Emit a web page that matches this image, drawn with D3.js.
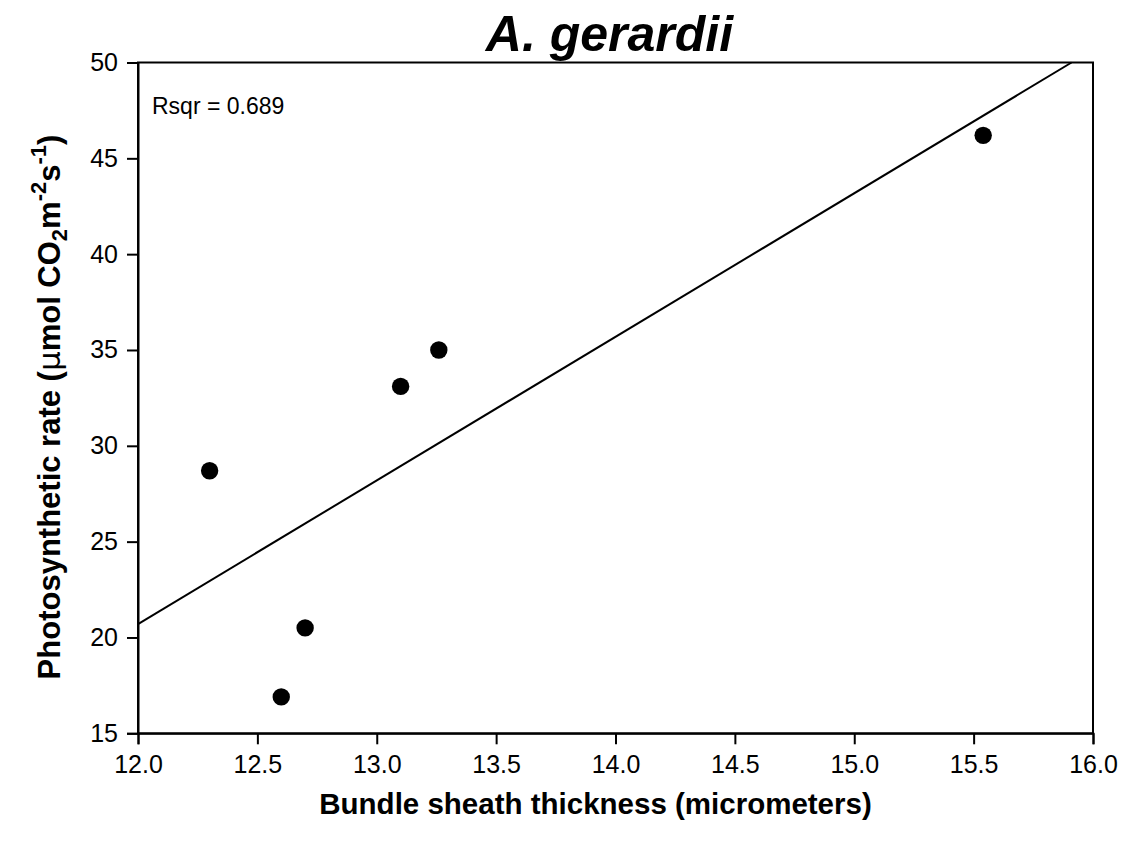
<!DOCTYPE html>
<html><head><meta charset="utf-8">
<script src="https://cdn.jsdelivr.net/npm/d3@7"></script>
<style>body{margin:0;background:#fff}svg{display:block}text{font-family:Arial,"Liberation Sans",sans-serif}</style>
</head><body>
<script>
const thickness = [12.30, 12.60, 12.70, 13.10, 13.26, 15.54];
const photoRate = [28.7, 16.9, 20.5, 33.1, 35.0, 46.2];
const xTicks = [12.0, 12.5, 13.0, 13.5, 14.0, 14.5, 15.0, 15.5, 16.0];
const yTicks = [15, 20, 25, 30, 35, 40, 45, 50];
const titleText = "A. gerardii";
const rsqrText = "Rsqr = 0.689";

const W = 1123, H = 850;
const m = {left: 138, right: 30, top: 62.5, bottom: 116.7};
const svg = d3.select("body").append("svg").attr("width", W).attr("height", H);
const x = d3.scaleLinear().domain([12, 16]).range([m.left, W - m.right]);
const y = d3.scaleLinear().domain([15, 50]).range([H - m.bottom, m.top]);

// least-squares regression line from the data
const n = thickness.length;
const mx = d3.mean(thickness), my = d3.mean(photoRate);
let sxy = 0, sxx = 0;
for (let i = 0; i < n; i++) { sxy += (thickness[i]-mx)*(photoRate[i]-my); sxx += (thickness[i]-mx)**2; }
const slope = sxy / sxx, icpt = my - slope * mx;
const x0 = 12, y0 = icpt + slope * x0;
let x1 = 16, y1 = icpt + slope * x1;
if (y1 > 50) { y1 = 50; x1 = (50 - icpt) / slope; }

svg.append("line")
  .attr("x1", x(x0)).attr("y1", y(y0)).attr("x2", x(x1)).attr("y2", y(y1))
  .attr("stroke", "#000").attr("stroke-width", 2);

svg.selectAll("circle.pt").data(thickness).join("circle").attr("class","pt")
  .attr("cx", d => x(d)).attr("cy", (d,i) => y(photoRate[i])).attr("r", 8.7).attr("fill", "#000");

// frame
svg.append("rect").attr("x", x(12)).attr("y", y(50)).attr("width", x(16)-x(12)).attr("height", y(15)-y(50))
  .attr("fill","none").attr("stroke","#000").attr("stroke-width",2);

const xAxis = svg.append("g").attr("transform", `translate(0,${y(15)})`)
  .call(d3.axisBottom(x).tickValues(xTicks).tickFormat(d3.format(".1f")).tickSize(11).tickPadding(11));
const yAxis = svg.append("g").attr("transform", `translate(${x(12)},0)`)
  .call(d3.axisLeft(y).tickValues(yTicks).tickFormat(d3.format("d")).tickSize(11).tickPadding(9));
[xAxis, yAxis].forEach(g => {
  g.select(".domain").attr("stroke","#000").attr("stroke-width",2);
  g.selectAll(".tick line").attr("stroke","#000").attr("stroke-width",2);
  g.selectAll(".tick text").attr("font-size", 25).attr("fill","#000").attr("font-family","Arial, 'Liberation Sans', sans-serif");
});

svg.append("text").attr("x", (x(12)+x(16))/2 - 6).attr("y", 51).attr("text-anchor","middle")
  .attr("font-size", 50).attr("font-weight","bold").attr("font-style","italic").text(titleText);

svg.append("text").attr("x", 152).attr("y", 114).attr("font-size", 23).text(rsqrText);

svg.append("text").attr("x", 595.5).attr("y", 814).attr("text-anchor","middle")
  .attr("font-size", 29.5).attr("font-weight","bold").text("Bundle sheath thickness (micrometers)");

const yt = svg.append("text").attr("transform", "translate(60,407) rotate(-90)").attr("text-anchor","middle")
  .attr("font-size", 31).attr("font-weight","bold");
yt.append("tspan").text("Photosynthetic rate (");
yt.append("tspan").attr("font-weight","normal").attr("font-family","'DejaVu Sans', sans-serif").text("μ");
yt.append("tspan").text("mol CO");
yt.append("tspan").attr("font-size", 22).attr("dy", 7).text("2");
yt.append("tspan").attr("dy", -7).text("m");
yt.append("tspan").attr("font-size", 22).attr("dy", -14).text("-2");
yt.append("tspan").attr("dy", 14).text("s");
yt.append("tspan").attr("font-size", 22).attr("dy", -14).text("-1");
yt.append("tspan").attr("dy", 14).text(")");
</script>
</body></html>
